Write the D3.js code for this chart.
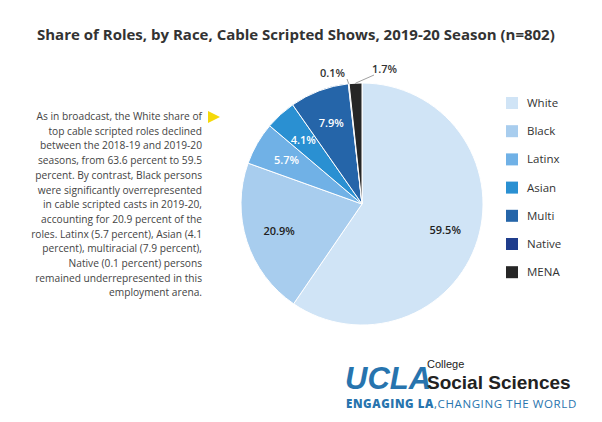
<!DOCTYPE html>
<html><head><meta charset="utf-8">
<script src="https://cdn.jsdelivr.net/npm/d3@7"></script>
<style>body{margin:0;background:#fff;font-family:"Open Sans",sans-serif}</style>
</head><body><svg id="chart" width="602" height="422"></svg>
<script>
const categories = ["White", "Black", "Latinx", "Asian", "Multi", "Native", "MENA"];
const shares = [59.5, 20.9, 5.7, 4.1, 7.9, 0.1, 1.7];
const colors = ["#d0e4f6", "#a8cdee", "#70b1e6", "#2a90d2", "#2565a9", "#1f3d8c", "#262626"];
const noteLines = [
  "As in broadcast, the White share of",
  "top cable scripted roles declined",
  "between the 2018-19 and 2019-20",
  "seasons, from 63.6 percent to 59.5",
  "percent. By contrast, Black persons",
  "were significantly overrepresented",
  "in cable scripted casts in 2019-20,",
  "accounting for 20.9 percent of the",
  "roles. Latinx (5.7 percent), Asian (4.1",
  "percent), multiracial (7.9 percent),",
  "Native (0.1 percent) persons",
  "remained underrepresented in this",
  "employment arena."
];

const svg = d3.select("#chart");
svg.append("text").attr("x", 37).attr("y", 40)
  .attr("font-size", 15).attr("font-weight", 700).attr("fill", "#333")
  .text("Share of Roles, by Race, Cable Scripted Shows, 2019-20 Season (n=802)");

// note text
const note = svg.append("text").attr("font-size", 10.2).attr("fill", "#444").attr("text-anchor", "end");
noteLines.forEach((l, i) => note.append("tspan").attr("x", 202).attr("y", 120 + i * 14.7).text(l));
svg.append("path").attr("d", "M208,111 L220,117 L208,123 Z").attr("fill", "#f5d90a");

// pie
const cx = 362, cy = 204, r = 121;
const data = categories.map((c, i) => ({ c, v: shares[i], col: colors[i] }));
const pie = d3.pie().value(d => d.v).sort(null);
const arc = d3.arc().innerRadius(0).outerRadius(r);
const g = svg.append("g").attr("transform", `translate(${cx},${cy})`);
const arcs = pie(data);
g.selectAll("path").data(arcs).join("path")
  .attr("d", arc).attr("fill", d => d.data.col)
  .attr("stroke", "#fff").attr("stroke-width", 1);

const inner = d3.arc().innerRadius(r * 0.72).outerRadius(r * 0.72);
const light = ["White", "Black"];
arcs.forEach(a => {
  if (a.data.v < 2) return;
  const [x, y] = inner.centroid(a);
  g.append("text").attr("x", x).attr("y", y + 4).attr("text-anchor", "middle")
    .attr("font-size", 11).attr("font-weight", 600)
    .attr("fill", light.includes(a.data.c) ? "#222" : "#fff")
    .text(a.data.v.toFixed(1) + "%");
});
// outside labels for small slices
const outerA = d3.arc().innerRadius(r).outerRadius(r);
[[6, 372, 73, "start"], [5, 345, 77, "end"]].forEach(([i, lx, ly, anchor]) => {
  const a = arcs[i];
  const [x, y] = outerA.centroid(a);
  g.append("line").attr("x1", x).attr("y1", y).attr("x2", lx - cx + (anchor === "end" ? 2 : 2)).attr("y2", ly - cy + 2)
    .attr("stroke", "#888").attr("stroke-width", 0.8);
  svg.append("text").attr("x", lx).attr("y", ly).attr("text-anchor", anchor)
    .attr("font-size", 11).attr("font-weight", 600).attr("fill", "#333")
    .text(a.data.v.toFixed(1) + "%");
});

// legend
const leg = svg.append("g");
categories.forEach((c, i) => {
  const y = 103 + i * 28.2;
  leg.append("rect").attr("x", 506).attr("y", y - 6).attr("width", 12).attr("height", 12).attr("fill", colors[i]);
  leg.append("text").attr("x", 527).attr("y", y + 4).attr("font-size", 11.5).attr("fill", "#333").text(c);
});

// logo
svg.append("text").attr("x", 345).attr("y", 389).attr("font-size", 31).attr("font-weight", 800)
  .attr("font-style", "italic").attr("fill", "#2774ae").attr("font-family", "Liberation Sans, sans-serif").text("UCLA");
svg.append("text").attr("x", 427).attr("y", 368).attr("font-size", 11).attr("fill", "#222")
  .attr("font-family", "Liberation Sans, sans-serif").text("College");
svg.append("text").attr("x", 427).attr("y", 389).attr("font-size", 19).attr("font-weight", 700).attr("fill", "#222")
  .attr("font-family", "Liberation Sans, sans-serif").text("Social Sciences");
const tag = svg.append("text").attr("x", 346).attr("y", 408).attr("font-size", 11.5).attr("letter-spacing", 0.6).attr("fill", "#2774ae");
tag.append("tspan").attr("font-weight", 800).text("ENGAGING LA");
tag.append("tspan").text(",CHANGING THE WORLD");
</script></body></html>
